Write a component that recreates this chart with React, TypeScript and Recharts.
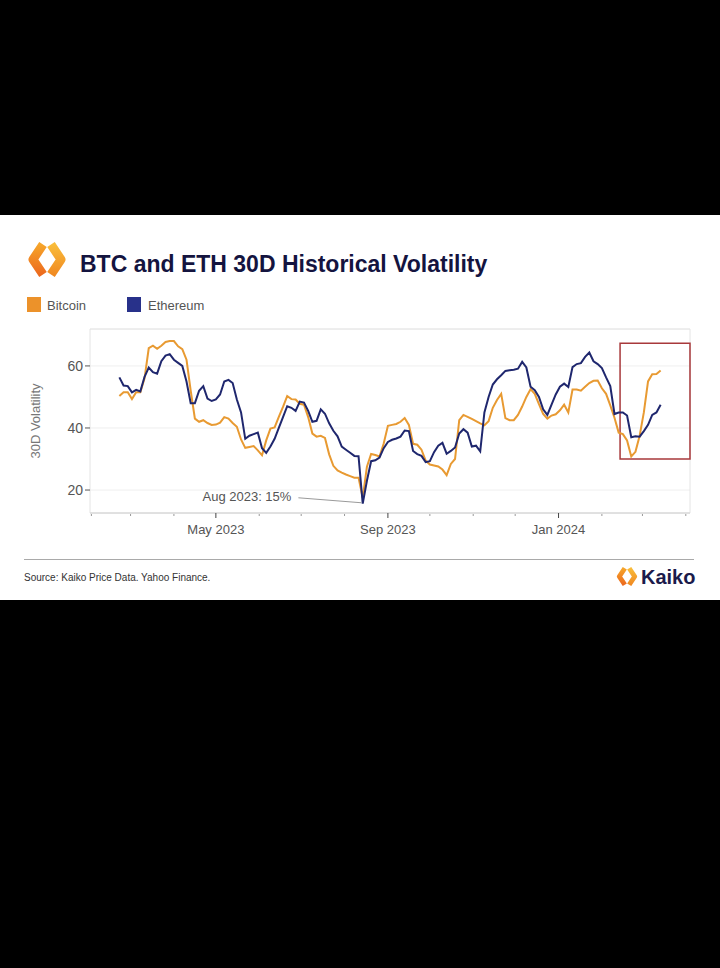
import {
  LineChart,
  Line,
  XAxis,
  YAxis,
  CartesianGrid,
  ReferenceArea,
  ReferenceLine,
  ReferenceDot,
} from 'recharts'

const DATES = [
  '2023-02-21', '2023-02-24', '2023-02-27', '2023-03-02', '2023-03-05', '2023-03-08', '2023-03-11', '2023-03-14',
  '2023-03-17', '2023-03-20', '2023-03-23', '2023-03-26', '2023-03-29', '2023-04-01', '2023-04-04', '2023-04-07',
  '2023-04-10', '2023-04-13', '2023-04-16', '2023-04-19', '2023-04-22', '2023-04-25', '2023-04-28', '2023-05-01',
  '2023-05-04', '2023-05-07', '2023-05-10', '2023-05-13', '2023-05-16', '2023-05-19', '2023-05-22', '2023-05-25',
  '2023-05-28', '2023-05-31', '2023-06-03', '2023-06-06', '2023-06-09', '2023-06-12', '2023-06-15', '2023-06-18',
  '2023-06-21', '2023-06-24', '2023-06-27', '2023-06-30', '2023-07-03', '2023-07-06', '2023-07-09', '2023-07-12',
  '2023-07-15', '2023-07-18', '2023-07-21', '2023-07-24', '2023-07-27', '2023-07-30', '2023-08-02', '2023-08-05',
  '2023-08-08', '2023-08-11', '2023-08-14', '2023-08-17', '2023-08-20', '2023-08-23', '2023-08-26', '2023-08-29',
  '2023-09-01', '2023-09-04', '2023-09-07', '2023-09-10', '2023-09-13', '2023-09-16', '2023-09-19', '2023-09-22',
  '2023-09-25', '2023-09-28', '2023-10-01', '2023-10-04', '2023-10-07', '2023-10-10', '2023-10-13', '2023-10-16',
  '2023-10-19', '2023-10-22', '2023-10-25', '2023-10-28', '2023-10-31', '2023-11-03', '2023-11-06', '2023-11-09',
  '2023-11-12', '2023-11-15', '2023-11-18', '2023-11-21', '2023-11-24', '2023-11-27', '2023-11-30', '2023-12-03',
  '2023-12-06', '2023-12-09', '2023-12-12', '2023-12-15', '2023-12-18', '2023-12-21', '2023-12-24', '2023-12-27',
  '2023-12-30', '2024-01-02', '2024-01-05', '2024-01-08', '2024-01-11', '2024-01-14', '2024-01-17', '2024-01-20',
  '2024-01-23', '2024-01-26', '2024-01-29', '2024-02-01', '2024-02-04', '2024-02-07', '2024-02-10', '2024-02-13',
  '2024-02-16', '2024-02-19', '2024-02-22', '2024-02-25', '2024-02-28', '2024-03-02', '2024-03-05', '2024-03-08',
  '2024-03-11', '2024-03-14',
]

const BTC_VOL = [
  50.3, 51.5, 51.5, 49.3, 51.5, 51.5, 56, 65.7, 66.5, 65.5, 66.5, 67.7, 68, 68, 66.3, 65.4,
  62, 52, 43, 42, 42.5, 41.6, 41, 41.1, 41.7, 43.5, 43, 41.6, 40.4, 36.3, 33.6, 33.9,
  34.2, 32.8, 31.2, 36, 39.8, 40.2, 43.6, 46.8, 50.3, 49.3, 49.2, 47.8, 47.5, 43.5, 38.2, 37.2,
  37.5, 36.8, 31.5, 27.8, 26.3, 25.6, 25, 24.5, 24, 24, 17.5, 27.5, 31.6, 31.3, 30.8, 35,
  40.7, 41, 41.3, 42, 43.2, 41, 34.9, 34.6, 33, 29.5, 28.2, 27.9, 27.6, 26.6, 24.8, 28.4,
  30, 42.5, 44.2, 43.6, 42.9, 42.2, 41.5, 40.9, 42.2, 46.5, 49, 51, 43.2, 42.5, 42.5, 44.2,
  46.9, 50, 52.5, 51, 47.7, 44.5, 43, 44, 44.4, 45.7, 47.5, 45, 52.4, 52.4, 52, 53.3,
  54.5, 55.2, 55.3, 52.8, 51, 47.3, 43.3, 38.5, 38, 36, 30.8, 32.3, 37.5, 45, 55, 57.3,
  57.4, 58.5,
]

const ETH_VOL = [
  56.3, 53.7, 53.5, 51.5, 52.3, 51.8, 56.5, 59.5, 58, 57.5, 61.5, 63.3, 63.8, 62, 61, 60,
  55, 48, 48, 52, 53.5, 49.5, 48.7, 49.2, 50.8, 55, 55.5, 54.5, 49.2, 45, 36.5, 37.5,
  38, 38.5, 33.5, 32, 34, 36.5, 40, 43.5, 47, 46.5, 45.5, 48.5, 48.2, 45.5, 42, 42.3,
  46, 44.6, 41.5, 39.1, 37.3, 34, 33, 32, 31, 30.9, 15.6, 23, 29.3, 29.6, 30.5, 33.5,
  35.5, 36.2, 36.6, 37.2, 39.2, 39, 32.6, 31.6, 31, 29, 29.3, 32.2, 34.3, 35.2, 31.7, 32.6,
  33.7, 38.2, 39.6, 38.5, 34, 34.3, 32.5, 45, 50, 54, 55.7, 57, 58.4, 58.6, 58.8, 59.1,
  61.3, 59.5, 53.3, 52.2, 50, 46, 44.2, 47.5, 50.8, 53.3, 54.3, 53.2, 59.6, 60.6, 60.9, 62.9,
  64.3, 61.5, 60.6, 59.3, 56.3, 53.5, 44.5, 45, 45, 44, 37, 37.3, 37.2, 39, 41, 44.2,
  45, 47.5,
]

const MONTH_TICKS = [
  '2023-02-01', '2023-03-01', '2023-04-01', '2023-05-01', '2023-06-01', '2023-07-01', '2023-08-01', '2023-09-01',
  '2023-10-01', '2023-11-01', '2023-12-01', '2024-01-01', '2024-02-01', '2024-03-01', '2024-04-01',
]
const LABELLED_MONTHS = ['2023-05-01', '2023-09-01', '2024-01-01']
const Y_TICKS = [20, 40, 60]

const MONTH_NAMES = ['Jan', 'Feb', 'Mar', 'Apr', 'May', 'Jun', 'Jul', 'Aug', 'Sep', 'Oct', 'Nov', 'Dec']

const BTC_COLOR = '#E89A32'
const ETH_COLOR = '#1F276E'
const FONT = '"Liberation Sans", Arial, sans-serif'

const toTime = (s: string) => Date.parse(s + 'T00:00:00Z')

const X_MIN = toTime('2023-01-31')
const X_MAX = toTime('2024-04-04')
const Y_MIN = 12.6
const Y_MAX = 71.9

const data = DATES.map((d, i) => ({ t: toTime(d), btc: BTC_VOL[i], eth: ETH_VOL[i] }))
const labelled = new Set(LABELLED_MONTHS.map(toTime))

// annotation pointer for the Aug 2023 low
const NOTE_FROM = { t: toTime('2023-06-29'), v: 17.5 }
const NOTE_TO = { t: toTime('2023-08-13'), v: 15.9 }

function MonthTick({ x, y, payload }: any) {
  const isMajor = labelled.has(payload.value)
  const dt = new Date(payload.value)
  const label = `${MONTH_NAMES[dt.getUTCMonth()]} ${dt.getUTCFullYear()}`
  return (
    <g>
      {isMajor ? (
        <line x1={x} x2={x} y1={y} y2={y + 5} stroke="#444" strokeWidth={1} />
      ) : (
        <line x1={x} x2={x} y1={y + 1} y2={y + 3} stroke="#999" strokeWidth={1} />
      )}
      {isMajor && (
        <text x={x} y={y + 21} textAnchor="middle" fill="#555" fontSize={13} fontFamily={FONT}>
          {label}
        </text>
      )}
    </g>
  )
}

function YLabel({ viewBox }: any) {
  const cx = viewBox.x + 35
  const cy = viewBox.y + viewBox.height / 2
  return (
    <text
      x={cx}
      y={cy}
      transform={`rotate(-90 ${cx} ${cy})`}
      textAnchor="middle"
      dominantBaseline="central"
      fill="#777"
      fontSize={13}
      fontFamily={FONT}
    >
      30D Volatility
    </text>
  )
}

function NoteLabel({ viewBox }: any) {
  return (
    <text
      x={viewBox.x - 6}
      y={viewBox.y}
      dy="0.35em"
      textAnchor="end"
      fill="#555"
      fontSize={13}
      fontFamily={FONT}
    >
      Aug 2023: 15%
    </text>
  )
}

function Mark({ cx, cy, s, id }: { cx: number; cy: number; s: number; id: string }) {
  const l = [
    [cx - 4 * s, cy - 15 * s],
    [cx - 14 * s, cy],
    [cx - 4 * s, cy + 15 * s],
  ]
  const r = [
    [cx + 4 * s, cy - 15 * s],
    [cx + 14 * s, cy],
    [cx + 4 * s, cy + 15 * s],
  ]
  return (
    <g>
      <defs>
        <linearGradient id={`${id}-l`} x1="0" y1="0" x2="0" y2="1">
          <stop offset="0%" stopColor="#F6A52A" />
          <stop offset="100%" stopColor="#EC6A1E" />
        </linearGradient>
        <linearGradient id={`${id}-r`} x1="0" y1="0" x2="0" y2="1">
          <stop offset="0%" stopColor="#F9BC3A" />
          <stop offset="100%" stopColor="#F08A22" />
        </linearGradient>
      </defs>
      <polyline
        points={l.map((p) => p.join(',')).join(' ')}
        fill="none"
        stroke={`url(#${id}-l)`}
        strokeWidth={9 * s}
        strokeLinejoin="round"
      />
      <polyline
        points={r.map((p) => p.join(',')).join(' ')}
        fill="none"
        stroke={`url(#${id}-r)`}
        strokeWidth={9 * s}
        strokeLinejoin="round"
      />
    </g>
  )
}

export default function App() {
  return (
    <div style={{ position: 'absolute', left: 0, top: 0, width: 720, height: 968, background: '#000' }}>
      <div style={{ position: 'absolute', left: 0, top: 215, width: 720, height: 385, background: '#fff' }} />
      <svg
        width={720}
        height={968}
        style={{ position: 'absolute', left: 0, top: 0 }}
        fontFamily={FONT}
      >
        <Mark cx={47} cy={259.5} s={1} id="top" />
        <text x={80} y={272} fontSize={23} fontWeight="bold" fill="#14143F">
          BTC and ETH 30D Historical Volatility
        </text>

        <rect x={27} y={297} width={14} height={15} fill="#EC922A" />
        <text x={47} y={310} fontSize={13} fill="#555">Bitcoin</text>
        <rect x={127} y={297} width={14} height={15} fill="#28318A" />
        <text x={148} y={310} fontSize={13} fill="#555">Ethereum</text>

        <line x1={24} x2={694} y1={559.5} y2={559.5} stroke="#a9a9a9" strokeWidth={1} />
        <text x={24} y={581} fontSize={10} fill="#333">Source: Kaiko Price Data. Yahoo Finance.</text>
        <Mark cx={627} cy={576.5} s={0.55} id="foot" />
        <text x={641} y={584} fontSize={20} fontWeight="bold" fill="#1B1B4B">Kaiko</text>
      </svg>

      <div style={{ position: 'absolute', left: 0, top: 320 }}>
        <LineChart
          width={720}
          height={225}
          data={data}
          margin={{ top: 9, right: 30, bottom: 0, left: 0 }}
        >
          <CartesianGrid horizontal vertical={false} stroke="#efefef" />
          <ReferenceArea
            x1={X_MIN}
            x2={X_MAX}
            y1={Y_MIN}
            y2={Y_MAX}
            fill="none"
            stroke="#e4e4e4"
            strokeWidth={1}
          />
          <XAxis
            dataKey="t"
            type="number"
            scale="time"
            domain={[X_MIN, X_MAX]}
            ticks={MONTH_TICKS.map(toTime)}
            tick={<MonthTick />}
            tickLine={false}
            tickSize={0}
            tickMargin={0}
            axisLine={{ stroke: '#d4d4d4' }}
            height={32}
            interval={0}
            allowDataOverflow
          />
          <YAxis
            type="number"
            domain={[Y_MIN, Y_MAX]}
            ticks={Y_TICKS}
            width={90}
            axisLine={false}
            tickLine={{ stroke: '#555' }}
            tickSize={5}
            tickMargin={2}
            tick={{ fill: '#555', fontSize: 14, fontFamily: FONT }}
            label={{ content: <YLabel /> }}
            allowDataOverflow
          />
          <Line
            type="linear"
            dataKey="btc"
            stroke={BTC_COLOR}
            strokeWidth={2}
            dot={false}
            isAnimationActive={false}
          />
          <Line
            type="linear"
            dataKey="eth"
            stroke={ETH_COLOR}
            strokeWidth={2}
            dot={false}
            isAnimationActive={false}
          />
          <ReferenceLine
            segment={[
              { x: NOTE_FROM.t, y: NOTE_FROM.v },
              { x: NOTE_TO.t, y: NOTE_TO.v },
            ]}
            stroke="#9a9a9a"
            strokeWidth={1}
          />
          <ReferenceDot
            x={NOTE_FROM.t}
            y={NOTE_FROM.v}
            r={1}
            fill="none"
            stroke="none"
            label={{ content: <NoteLabel /> }}
          />
          <ReferenceArea
            x1={toTime('2024-02-14')}
            x2={X_MAX}
            y1={30}
            y2={67.3}
            fill="none"
            stroke="#A8393B"
            strokeWidth={1.5}
          />
        </LineChart>
      </div>
    </div>
  )
}
